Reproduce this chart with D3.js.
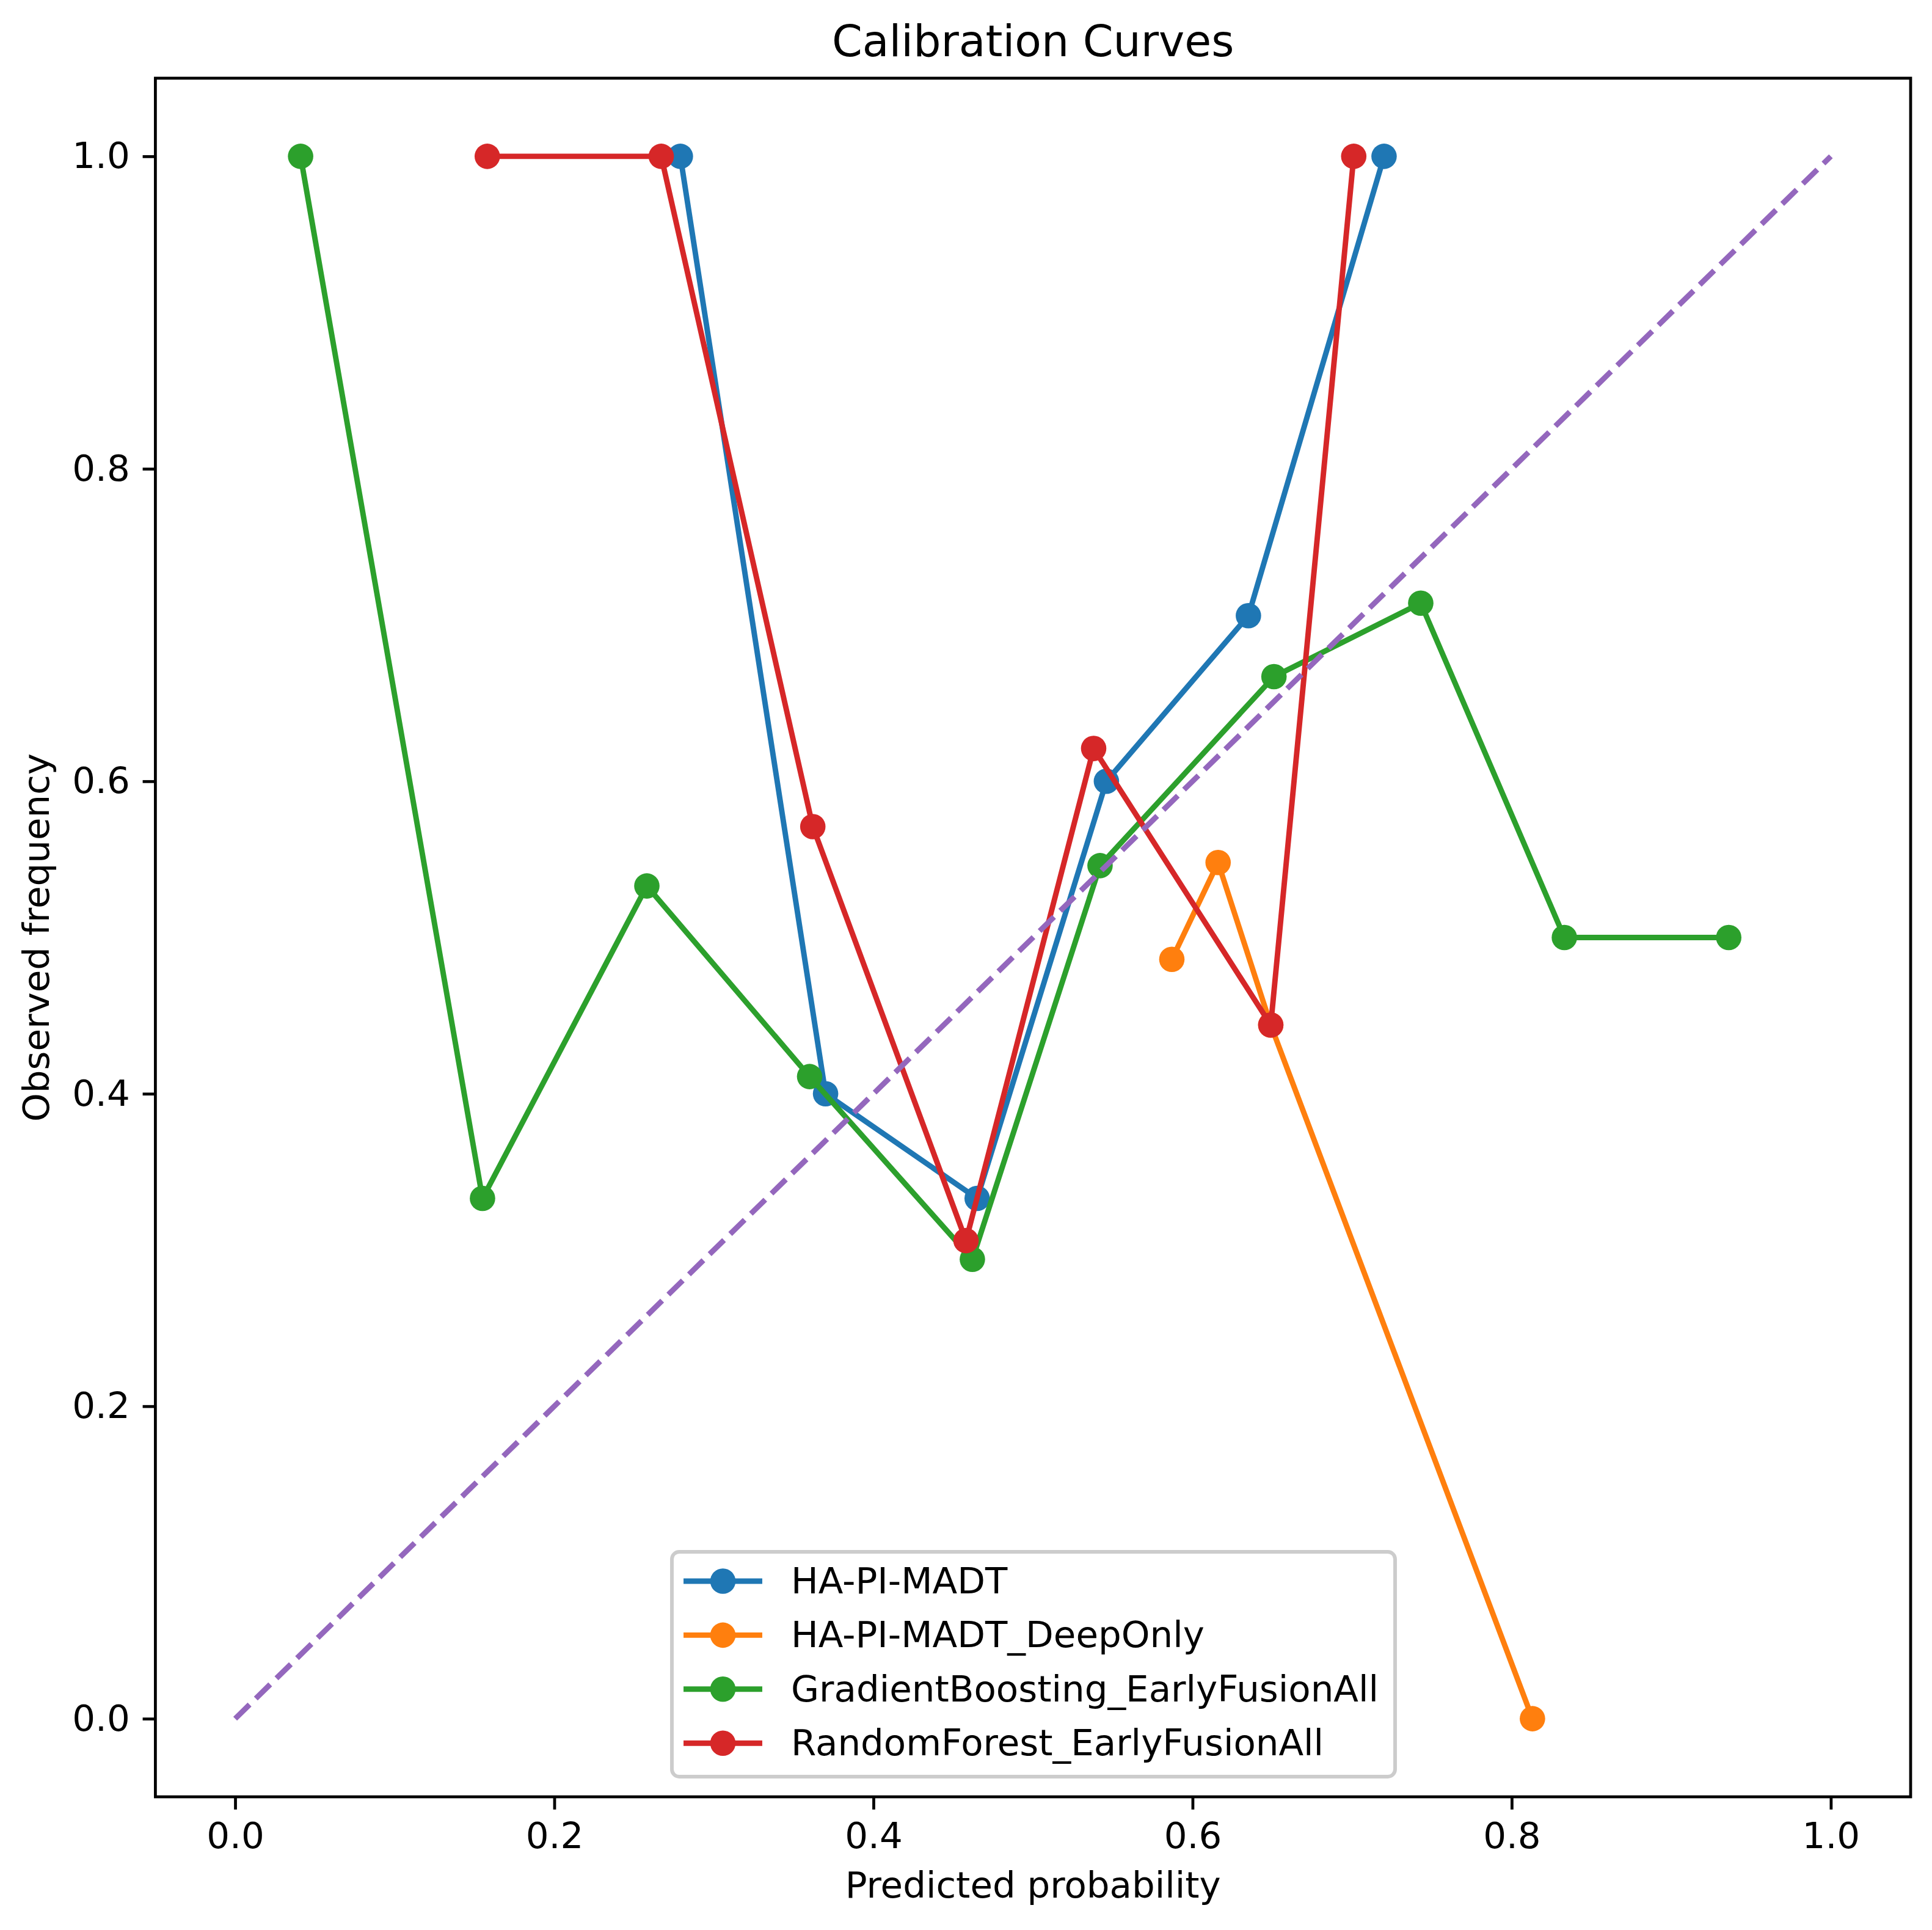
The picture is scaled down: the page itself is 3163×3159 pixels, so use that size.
<!DOCTYPE html>
<html>
<head>
<meta charset="utf-8">
<script src="https://cdn.jsdelivr.net/npm/d3@7/dist/d3.min.js"></script>
<style>
  html, body { margin: 0; padding: 0; background: #fff; }
  svg { display: block; }
  text { font-family: "DejaVu Sans", sans-serif; }
</style>
</head>
<body>
<svg id="chart" width="3163" height="3159"></svg>
<script>
// ---- data ----
const seriesNames = ["HA-PI-MADT", "HA-PI-MADT_DeepOnly", "GradientBoosting_EarlyFusionAll", "RandomForest_EarlyFusionAll"];
const seriesColors = ["#1f77b4", "#ff7f0e", "#2ca02c", "#d62728"];

const madtX = [0.279, 0.370, 0.465, 0.546, 0.635, 0.720];
const madtY = [1.0, 0.400, 0.333, 0.600, 0.706, 1.0];

const deepX = [0.587, 0.616, 0.649, 0.813];
const deepY = [0.486, 0.548, 0.444, 0.0];

const gbX = [0.041, 0.155, 0.258, 0.360, 0.462, 0.542, 0.651, 0.743, 0.833, 0.936];
const gbY = [1.0, 0.333, 0.533, 0.411, 0.294, 0.546, 0.667, 0.714, 0.5, 0.5];

const rfX = [0.158, 0.267, 0.362, 0.458, 0.538, 0.649, 0.701];
const rfY = [1.0, 1.0, 0.571, 0.306, 0.621, 0.444, 1.0];

const diagX = [0, 1];
const diagY = [0, 1];

const xTicks = [0.0, 0.2, 0.4, 0.6, 0.8, 1.0];
const yTicks = [0.0, 0.2, 0.4, 0.6, 0.8, 1.0];

const titleText = "Calibration Curves";
const xLabelText = "Predicted probability";
const yLabelText = "Observed frequency";

// ---- layout ----
const S = 428 / 72; // px per pt
const L = 254.4, R = 3128, T = 128, B = 2941;
const fs = 10 * S, titleFs = 12 * S;

const svg = d3.select("#chart");
const x = d3.scaleLinear().domain([-0.05, 1.05]).range([L, R]);
const y = d3.scaleLinear().domain([-0.05, 1.05]).range([B, T]);

const series = [
  { name: seriesNames[0], color: seriesColors[0], xs: madtX, ys: madtY },
  { name: seriesNames[1], color: seriesColors[1], xs: deepX, ys: deepY },
  { name: seriesNames[2], color: seriesColors[2], xs: gbX, ys: gbY },
  { name: seriesNames[3], color: seriesColors[3], xs: rfX, ys: rfY }
];

const line = d3.line().x(d => x(d[0])).y(d => y(d[1]));
const markerR = 3.5 * S; // 6pt marker + 1pt edge

const plot = svg.append("g");
plot.append("defs").append("clipPath").attr("id", "clip")
  .append("rect").attr("x", L).attr("y", T).attr("width", R - L).attr("height", B - T);
const pg = plot.append("g").attr("clip-path", "url(#clip)");

series.forEach(s => {
  const pts = s.xs.map((v, i) => [v, s.ys[i]]);
  const g = pg.append("g");
  g.append("path").datum(pts)
    .attr("d", line)
    .attr("fill", "none")
    .attr("stroke", s.color)
    .attr("stroke-width", 1.5 * S)
    .attr("stroke-linejoin", "round")
    .attr("stroke-linecap", "square");
  g.selectAll("circle").data(pts).enter().append("circle")
    .attr("cx", d => x(d[0])).attr("cy", d => y(d[1]))
    .attr("r", markerR)
    .attr("fill", s.color);
});

// diagonal
pg.append("path").datum(diagX.map((v, i) => [v, diagY[i]]))
  .attr("d", line)
  .attr("fill", "none")
  .attr("stroke", "#9467bd")
  .attr("stroke-width", 1.5 * S)
  .attr("stroke-dasharray", `${3.7 * 1.5 * S},${1.6 * 1.5 * S}`);

// axes
const xAxis = d3.axisBottom(x).tickValues(xTicks).tickFormat(d3.format(".1f"))
  .tickSize(3.5 * S).tickPadding(3.5 * S);
const yAxis = d3.axisLeft(y).tickValues(yTicks).tickFormat(d3.format(".1f"))
  .tickSize(3.5 * S).tickPadding(3.5 * S);

const gx = svg.append("g").attr("transform", `translate(0,${B})`).call(xAxis);
const gy = svg.append("g").attr("transform", `translate(${L},0)`).call(yAxis);
[gx, gy].forEach(g => {
  g.select(".domain").remove();
  g.selectAll(".tick line").attr("stroke", "#000").attr("stroke-width", 0.8 * S);
  g.selectAll(".tick text").attr("fill", "#000").style("font-size", fs + "px")
    .style("font-family", "DejaVu Sans");
});

// spines
svg.append("rect").attr("x", L).attr("y", T).attr("width", R - L).attr("height", B - T)
  .attr("fill", "none").attr("stroke", "#000").attr("stroke-width", 0.8 * S)
  .attr("stroke-linejoin", "miter");

// title & labels
svg.append("text").attr("x", (L + R) / 2).attr("y", T - 6 * S)
  .attr("text-anchor", "middle").style("font-size", titleFs + "px").text(titleText);
svg.append("text").attr("x", (L + R) / 2).attr("y", 3106)
  .attr("text-anchor", "middle").style("font-size", fs + "px").text(xLabelText);
svg.append("text").attr("transform", `translate(80,${(T + B) / 2}) rotate(-90)`)
  .attr("text-anchor", "middle").style("font-size", fs + "px").text(yLabelText);

// legend
const lg = svg.append("g");
lg.append("rect").attr("x", 1100).attr("y", 2540).attr("width", 1184).attr("height", 368)
  .attr("rx", 12).attr("ry", 12)
  .attr("fill", "#fff").attr("fill-opacity", 0.8)
  .attr("stroke", "#cccccc").attr("stroke-width", 1 * S);
series.forEach((s, i) => {
  const cy = 2588 + i * 88.4;
  lg.append("line").attr("x1", 1123.5).attr("x2", 1243.5).attr("y1", cy).attr("y2", cy)
    .attr("stroke", s.color).attr("stroke-width", 1.5 * S).attr("stroke-linecap", "square");
  lg.append("circle").attr("cx", 1183.5).attr("cy", cy).attr("r", markerR).attr("fill", s.color);
  lg.append("text").attr("x", 1295).attr("y", cy + 20).style("font-size", fs + "px").text(s.name);
});
</script>
</body>
</html>
